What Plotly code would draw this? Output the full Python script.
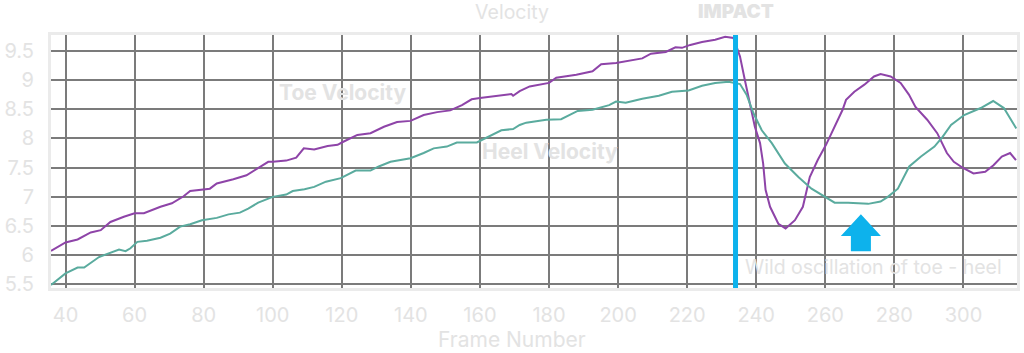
import plotly.graph_objects as go

# ---- data ----
toe_x = [35.8, 40, 43.5, 47.3, 50.2, 53, 56.9, 60, 62.7, 67.5, 70.8, 74.2, 76.1, 80, 81.8, 83.8, 88.6, 92.4,
         96.3, 98.7, 100, 103.9, 106.8, 109, 112, 115.9, 118.8, 120, 124.5, 128.3, 132.2, 136, 139.9, 143.7,
         147.6, 151.4, 154.8, 157.6, 160, 164.8, 169.1, 169.6, 171.5, 174.4, 180, 182.1, 187.9, 192.6, 195.1,
         199.4, 203.2, 207, 209.5, 213.8, 216.6, 218.5, 220.9, 224.3, 228.1, 231, 233.4, 235.3, 236.7, 238.2,
         239.6, 241.1, 242, 242.7, 244, 246.4, 248.5, 251.2, 253.5, 255.5, 257.8, 260.2, 262.6, 265, 266,
         268.4, 271.3, 274.1, 276, 278.9, 281.8, 284.2, 286.1, 289.5, 292.4, 295.2, 297.2, 300, 302.9, 306.3,
         308.7, 311.1, 313.5, 315.2]
toe_velocity = [6.075, 6.22, 6.27, 6.39, 6.43, 6.57, 6.66, 6.72, 6.72, 6.83, 6.89, 7.01, 7.10, 7.12, 7.14, 7.23,
                7.30, 7.37, 7.52, 7.60, 7.60, 7.62, 7.67, 7.83, 7.81, 7.87, 7.89, 7.93, 8.06, 8.09, 8.20, 8.28,
                8.30, 8.40, 8.45, 8.48, 8.57, 8.67, 8.69, 8.73, 8.76, 8.73, 8.81, 8.89, 8.95, 9.04, 9.09, 9.15,
                9.27, 9.29, 9.33, 9.37, 9.45, 9.48, 9.56, 9.55, 9.60, 9.65, 9.69, 9.74, 9.72, 9.40, 9.00, 8.60,
                8.20, 7.92, 7.57, 7.12, 6.83, 6.54, 6.46, 6.60, 6.83, 7.34, 7.63, 7.89, 8.20, 8.49, 8.66, 8.80,
                8.92, 9.06, 9.10, 9.06, 8.95, 8.75, 8.54, 8.32, 8.09, 7.75, 7.60, 7.49, 7.40, 7.43, 7.54, 7.69,
                7.75, 7.63]

heel_x = [35.8, 40, 43.5, 45.4, 49.7, 55.5, 57.4, 58.8, 60.8, 63.6, 67.5, 70.3, 73.2, 76.1, 79.5, 83.8, 87.2,
          90.5, 92.9, 95.8, 100, 103.9, 105.8, 109.2, 112, 115.4, 119.7, 122.6, 124, 128.3, 130.7, 134.1, 139.9,
          143.7, 146.6, 150.4, 153.3, 159.1, 162.9, 166.2, 169.6, 171.5, 173.4, 179.2, 183.5, 188.3, 192.6,
          197.4, 199.4, 202.2, 207, 211.8, 215.6, 220.4, 224.3, 228.1, 232, 235.3, 237.2, 239.2, 241.6, 244.5,
          248.3, 252.2, 256, 259.9, 262.7, 266.6, 269.5, 272.4, 276, 278.1, 281, 284.3, 287.7, 291.6, 294,
          296.4, 300.2, 305, 308.6, 311.7, 315.3]
heel_velocity = [5.49, 5.69, 5.79, 5.79, 5.97, 6.10, 6.07, 6.12, 6.23, 6.25, 6.30, 6.37, 6.49, 6.53, 6.60, 6.64,
                 6.70, 6.73, 6.80, 6.90, 7.00, 7.04, 7.10, 7.13, 7.17, 7.26, 7.32, 7.40, 7.45, 7.45, 7.52, 7.60,
                 7.66, 7.75, 7.83, 7.86, 7.93, 7.93, 8.04, 8.14, 8.16, 8.23, 8.27, 8.32, 8.33, 8.47, 8.49, 8.57,
                 8.63, 8.61, 8.68, 8.73, 8.80, 8.82, 8.90, 8.95, 8.97, 8.93, 8.75, 8.43, 8.14, 7.92, 7.57, 7.34,
                 7.14, 7.00, 6.90, 6.90, 6.89, 6.88, 6.92, 7.00, 7.14, 7.52, 7.69, 7.86, 8.03, 8.23, 8.40, 8.52,
                 8.64, 8.52, 8.17]

x_ticks = [40, 60, 80, 100, 120, 140, 160, 180, 200, 220, 240, 260, 280, 300]
y_ticks = [5.5, 6, 6.5, 7, 7.5, 8, 8.5, 9, 9.5]
y_tick_labels = ["5.5", "6", "6.5", "7", "7.5", "8", "8.5", "9", "9.5"]

impact_frame = 234
arrow_frame = 270.3

FONT = "Inter"
LIGHT = "#e3e3e3"
GRID = "#7b7b7b"
TOE = "#8e44a8"
HEEL = "#5aab9e"
BLUE = "#0db2ec"

fig = go.Figure()
fig.add_trace(go.Scatter(x=toe_x, y=toe_velocity, mode="lines", name="Toe Velocity",
                         line=dict(color=TOE, width=2)))
fig.add_trace(go.Scatter(x=heel_x, y=heel_velocity, mode="lines", name="Heel Velocity",
                         line=dict(color=HEEL, width=2)))

# impact line
fig.add_shape(type="line", xref="x", yref="y domain", x0=impact_frame, x1=impact_frame, y0=0, y1=1,
              line=dict(color=BLUE, width=5), layer="above")

# arrow
ax = arrow_frame
path = (f"M {ax} 6.704 L {ax + 5.8} 6.332 L {ax + 2.9} 6.332 L {ax + 2.9} 6.069 "
        f"L {ax - 2.9} 6.069 L {ax - 2.9} 6.332 L {ax - 5.8} 6.332 Z")
fig.add_shape(type="path", xref="x", yref="y", path=path, fillcolor=BLUE,
              line=dict(color=BLUE, width=0), layer="above")

annots = [
    dict(x=120.1, y=8.78, text="<b>Toe Velocity</b>", font=dict(size=21, color=LIGHT, family=FONT)),
    dict(x=180.2, y=7.77, text="<b>Heel Velocity</b>", font=dict(size=21, color=LIGHT, family=FONT)),
    dict(x=274, y=5.795, text="Wild oscillation of toe - heel", font=dict(size=19.5, color=LIGHT, family=FONT)),
]
for a in annots:
    fig.add_annotation(xref="x", yref="y", showarrow=False, xanchor="center", yanchor="middle", **a)

fig.add_annotation(x=impact_frame, xref="x", y=1.091, yref="paper", text="IMPACT", showarrow=False,
                   xanchor="center", yanchor="middle",
                   font=dict(size=19, color=LIGHT, family=FONT, weight=900))

# axis title, centred on the page as in the reference
fig.add_annotation(x=(512 - 48) / 972, xref="paper", y=(288 - 339) / 253, yref="paper", text="Frame Number",
                   showarrow=False, xanchor="center", yanchor="middle",
                   font=dict(size=21, color=LIGHT, family=FONT))

fig.update_layout(
    width=1024, height=353,
    margin=dict(l=48, r=4, t=35, b=65),
    paper_bgcolor="white", plot_bgcolor="white",
    showlegend=False,
    title=dict(text="Velocity", x=0.5, xanchor="center", y=1 - 12 / 353, yanchor="middle",
               font=dict(size=19.5, color=LIGHT, family=FONT)),
    xaxis=dict(range=[35.8, 315.5], tickvals=x_ticks, showgrid=True, gridcolor=GRID, gridwidth=2,
               zeroline=False, showline=True, mirror=True, linecolor="#ebebeb", linewidth=3,
               ticks="", ticklabelstandoff=7,
               tickfont=dict(size=20, color=LIGHT, family=FONT)),
    yaxis=dict(range=[5.44, 9.77], tickvals=y_ticks, ticktext=y_tick_labels, showgrid=True, gridcolor=GRID,
               gridwidth=2, zeroline=False, showline=True, mirror=True, linecolor="#ebebeb", linewidth=3,
               ticks="", ticklabelstandoff=10,
               tickfont=dict(size=20, color=LIGHT, family=FONT)),
)

fig.write_html("out.html")
